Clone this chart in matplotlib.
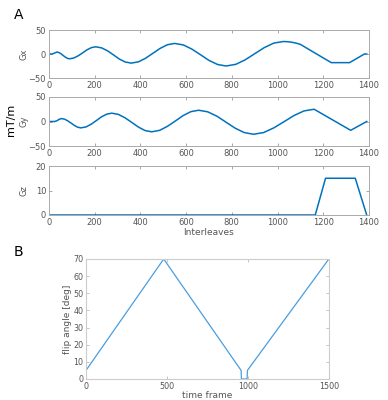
import numpy as np
import matplotlib
matplotlib.use("Agg")
import matplotlib.pyplot as plt

# gradient waveforms (interleave index, mT/m)
gx_t = [0, 15, 35, 44, 53, 62, 72, 81, 90, 109, 128, 148, 167, 186, 205,
        231, 257, 283, 308, 334, 360, 392, 423, 455, 487, 518, 550,
        588, 625, 663, 700, 738, 775, 817, 858, 900, 942, 983, 1025,
        1045, 1065, 1085, 1100, 1235, 1315, 1380, 1390]
gx_v = [0, 0, 4, 3.1, 0.5, -3, -6.5, -9.1, -10, -8.3, -3.8, 2.5, 8.8, 13.3, 15,
        12.7, 6.5, -2, -10.5, -16.7, -19, -16.3, -8.8, 1.5, 11.8, 19.3, 22,
        18.9, 10.3, -1.5, -13.3, -21.9, -25, -21.6, -12.3, 0.5, 13.3, 22.6, 26,
        25.6, 24.3, 22.2, 20, -18, -18, 0, 0]

gy_t = [0, 25, 35, 45, 55, 69, 83, 98, 112, 126, 140, 163, 185, 208, 230, 253, 275,
        304, 333, 363, 392, 421, 450, 484, 518, 553, 587, 621, 655,
        695, 735, 775, 815, 855, 895, 939, 983, 1028, 1072, 1116, 1160,
        1320, 1390]
gy_v = [0, 0, 1.5, 4.5, 6, 4.7, 1.2, -3.5, -8.2, -11.7, -13, -11, -5.5, 2, 9.5, 15, 17,
        14.5, 7.5, -2, -11.5, -18.5, -21, -18.1, -10, 1, 12, 20.1, 23,
        19.7, 10.8, -1.5, -13.7, -22.7, -26, -22.6, -13.2, -0.5, 12.2, 21.6, 25,
        -18, 0]

gz_t = [0, 1165, 1210, 1340, 1390]
gz_v = [0, 0, 15, 15, 0]

# flip angle schedule
fa_t = [0, 480, 958, 960, 995, 997, 1500]
fa_v = [5, 70, 5, 0, 0, 5, 70]

mcol = (0, 0.447, 0.741)
grey = "#555555"

fig = plt.figure(figsize=(3.88, 4.0), dpi=100)

def matlab_axes(rect, t, v, ylim, yticks, name):
    ax = fig.add_axes(rect)
    ax.plot(t, v, color=mcol, lw=1.1)
    ax.set_xlim(0, 1400)
    ax.set_ylim(*ylim)
    ax.set_xticks(range(0, 1401, 200))
    ax.set_yticks(yticks)
    ax.tick_params(direction="in", top=True, right=True, labelsize=6,
                   colors="#999999", labelcolor=grey, length=2.5, width=0.6, pad=2)
    for s in ax.spines.values():
        s.set_color("#aaaaaa")
        s.set_linewidth(0.7)
    ax.set_ylabel(name, fontsize=6, color=grey)
    ax.yaxis.set_label_coords(-0.064, 0.5)
    return ax

ax1 = matlab_axes([0.126, 0.805, 0.825, 0.12], gx_t, gx_v, (-50, 50), [-50, 0, 50], "Gx")
ax2 = matlab_axes([0.126, 0.635, 0.825, 0.1225], gy_t, gy_v, (-50, 50), [-50, 0, 50], "Gy")
ax3 = matlab_axes([0.126, 0.4625, 0.825, 0.1225], gz_t, gz_v, (0, 20), [0, 10, 20], "Gz")
ax3.set_xlabel("Interleaves", fontsize=6.5, color=grey, labelpad=1)

fig.text(0.028, 0.70, "mT/m", rotation=90, fontsize=8, ha="center", va="center")
fig.text(0.047, 0.962, "A", fontsize=10, ha="center", va="center")
fig.text(0.047, 0.37, "B", fontsize=10, ha="center", va="center")

# panel B
ax4 = fig.add_axes([0.2216, 0.0525, 0.626, 0.30])
ax4.plot(fa_t, fa_v, color="#4a9ee0", lw=0.9)
ax4.set_xlim(0, 1500)
ax4.set_ylim(0, 70)
ax4.set_xticks([0, 500, 1000, 1500])
ax4.set_yticks(range(0, 71, 10))
ax4.tick_params(direction="in", top=True, right=True, labelsize=5.8,
                colors="#bbbbbb", labelcolor=grey, length=2.5, width=0.6, pad=2)
for s in ax4.spines.values():
    s.set_color("#cccccc")
    s.set_linewidth(0.8)
ax4.set_xlabel("time frame", fontsize=6.5, color=grey, labelpad=0)
ax4.set_ylabel("flip angle [deg]", fontsize=6.5, color=grey, labelpad=1)

fig.savefig("out.png", dpi=100)
